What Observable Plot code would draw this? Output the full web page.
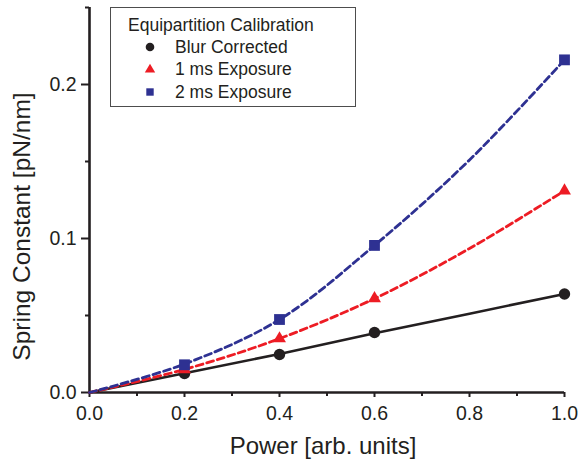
<!DOCTYPE html>
<html><head><meta charset="utf-8">
<script src="https://cdn.jsdelivr.net/npm/d3@7"></script>
<script src="https://cdn.jsdelivr.net/npm/@observablehq/plot@0.6"></script>
<style>
body{margin:0;background:#fff;}
#wrap{position:relative;width:579px;height:459px;font-family:"Liberation Sans",Arial,sans-serif;color:#231f20;}
#legend{position:absolute;left:110px;top:7px;width:246px;height:100px;border:1.3px solid #4d4d4d;box-sizing:border-box;background:#fff;font-size:17.5px;}
#legend .row{position:absolute;height:20px;line-height:20px;white-space:nowrap;}
#legend svg{position:absolute;}
</style></head><body><div id="wrap"></div>
<script>
// data: measured points
const power = [0.2, 0.4, 0.6, 1.0];
const blurCorrected = [0.0123, 0.0247, 0.0390, 0.0640];
const exposure1ms = [0.0150, 0.0350, 0.0610, 0.1310];
const exposure2ms = [0.0180, 0.0474, 0.0955, 0.2160];
// fit curves
const fitPower = [0, 0.2, 0.4, 0.6, 0.8, 1.0];
const fitBlur = [0, 0.0125, 0.0250, 0.0385, 0.0512, 0.0640];
const fit1ms = [0, 0.0150, 0.0350, 0.0610, 0.0935, 0.1310];
const fit2ms = [0, 0.0185, 0.0474, 0.0955, 0.1510, 0.2160];
const xMajorTicks = [0, 0.2, 0.4, 0.6, 0.8, 1.0];
const xMinorTicks = [0.1, 0.3, 0.5, 0.7, 0.9];
const yMajorTicks = [0, 0.1, 0.2];
const yMinorTicks = [0.05, 0.15, 0.25];
const seriesNames = ["Blur Corrected", "1 ms Exposure", "2 ms Exposure"];
const legendTitle = "Equipartition Calibration";
const xLabel = "Power [arb. units]";
const yLabel = "Spring Constant [pN/nm]";

const BLACK = "#231f20", RED = "#ed1c24", BLUE = "#2e3192";

const rows = (vals) => power.map((p, i) => ({x: p, y: vals[i]}));
const fitRows = (vals) => fitPower.map((p, i) => ({x: p, y: vals[i]}));

const fmt = d => d.toFixed(1);

const chart = Plot.plot({
  width: 579, height: 459,
  marginLeft: 89, marginRight: 15, marginTop: 7, marginBottom: 67,
  style: {fontFamily: "'Liberation Sans', Arial, sans-serif", background: "white", color: BLACK},
  x: {domain: [0, 1], label: null},
  y: {domain: [0, 0.25], label: null},
  marks: [
    Plot.axisX({ticks: xMinorTicks, tickSize: 4, text: null, strokeWidth: 2, label: null}),
    Plot.axisX({ticks: xMajorTicks, tickSize: 5, tickPadding: 9, tickFormat: fmt, fontSize: 19.5, strokeWidth: 2, label: null}),
    Plot.axisY({ticks: yMinorTicks, tickSize: 4, text: null, strokeWidth: 2, label: null}),
    Plot.axisY({ticks: yMajorTicks, tickSize: 8, tickPadding: 5, tickFormat: fmt, fontSize: 19.5, strokeWidth: 2, label: null}),
    Plot.ruleY([0], {stroke: BLACK, strokeWidth: 2.6}),
    Plot.ruleX([0], {stroke: BLACK, strokeWidth: 2.6}),
    Plot.line(fitRows(fitBlur), {x: "x", y: "y", stroke: BLACK, strokeWidth: 2.6}),
    Plot.line(fitRows(fit1ms), {x: "x", y: "y", stroke: RED, strokeWidth: 2.8, strokeDasharray: "7,4", curve: "catmull-rom"}),
    Plot.line(fitRows(fit2ms), {x: "x", y: "y", stroke: BLUE, strokeWidth: 2.8, strokeDasharray: "7,4", curve: "catmull-rom"}),
    Plot.dot(rows(blurCorrected), {x: "x", y: "y", r: 5.7, fill: BLACK, symbol: "circle"}),
    Plot.dot(rows(exposure1ms), {x: "x", y: "y", r: 4.8, fill: RED, symbol: "triangle"}),
    Plot.dot(rows(exposure2ms), {x: "x", y: "y", r: 6.1, fill: BLUE, symbol: "square"}),
    Plot.text([xLabel], {frameAnchor: "bottom", textAnchor: "middle", lineAnchor: "middle", dx: -4, dy: 53.5, fontSize: 24, fill: BLACK}),
    Plot.text([yLabel], {frameAnchor: "left", textAnchor: "middle", lineAnchor: "middle", rotate: -90, dx: -67, dy: 26.5, fontSize: 24.5, fill: BLACK})
  ]
});
const wrap = document.getElementById("wrap");
wrap.appendChild(chart);

// legend overlay
const legend = document.createElement("div");
legend.id = "legend";
const title = document.createElement("div");
title.className = "row";
title.style.left = "17px"; title.style.top = "7px";
title.textContent = legendTitle;
legend.appendChild(title);
const symbols = [
  `<circle cx="8" cy="8" r="4.3" fill="${BLACK}"/>`,
  `<path d="M8,2.8 L13.2,11.6 L2.8,11.6 Z" fill="${RED}"/>`,
  `<rect x="4.3" y="4.3" width="7.4" height="7.4" fill="${BLUE}"/>`
];
const centers = [40, 62, 85];
seriesNames.forEach((name, i) => {
  const s = document.createElementNS("http://www.w3.org/2000/svg", "svg");
  s.setAttribute("width", 16); s.setAttribute("height", 16);
  s.style.left = (40 - 8 - 1) + "px"; s.style.top = (centers[i] - 8 - 1) + "px";
  s.innerHTML = symbols[i];
  legend.appendChild(s);
  const r = document.createElement("div");
  r.className = "row";
  r.style.left = "64px"; r.style.top = (centers[i] - 10 - 1) + "px";
  r.textContent = name;
  legend.appendChild(r);
});
wrap.appendChild(legend);
</script>
</body></html>
